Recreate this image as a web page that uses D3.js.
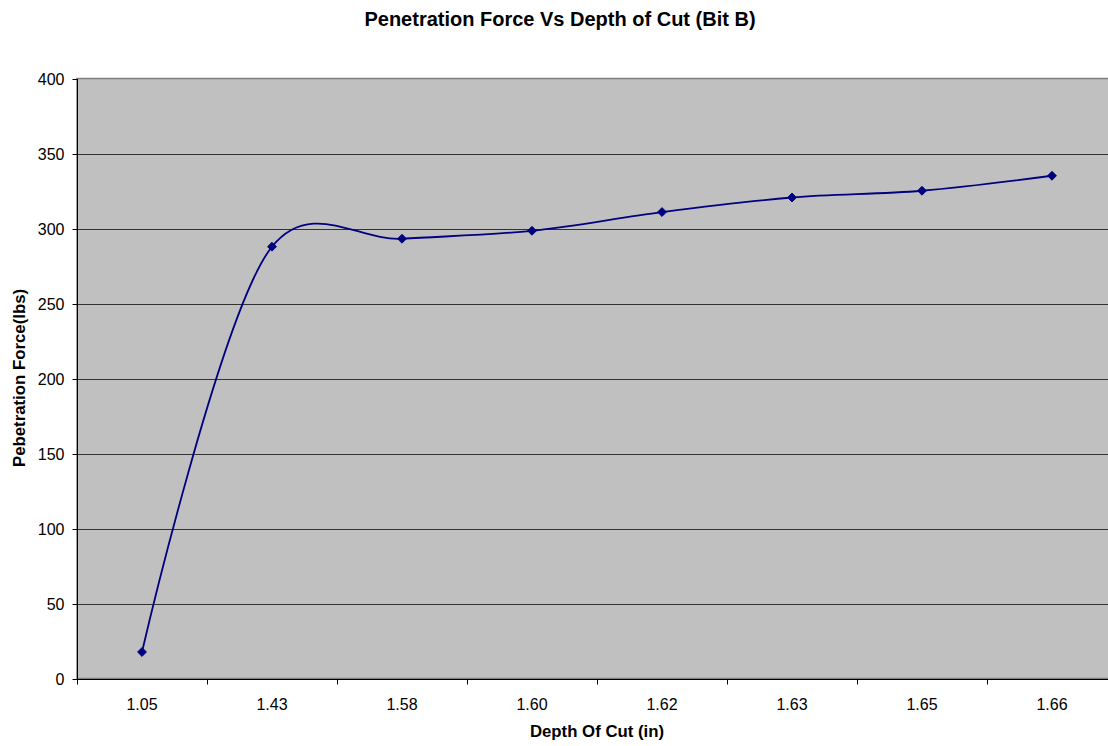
<!DOCTYPE html>
<html>
<head>
<meta charset="utf-8">
<script src="https://cdn.jsdelivr.net/npm/d3@7"></script>
<style>
  html, body { margin: 0; padding: 0; background: #fff; }
  svg { display: block; overflow: hidden; }
  text { font-family: "Liberation Sans", Arial, sans-serif; fill: #000; }
</style>
</head>
<body>
<svg id="chart" width="1108" height="746"></svg>
<script>
// Depth of cut categories (inches) and measured penetration force (lbs)
const depthLabels = ["1.05", "1.43", "1.58", "1.60", "1.62", "1.63", "1.65", "1.66"];
const forceValues = [18, 288.2, 293.5, 298.8, 311.3, 321, 325.5, 335.5];
const yTicks = [0, 50, 100, 150, 200, 250, 300, 350, 400];

const svg = d3.select("#chart");
const plot = { left: 77, top: 79, right: 1117, bottom: 679 };

const x = d3.scaleBand()
  .domain(depthLabels)
  .range([plot.left, plot.right])
  .padding(0);

const y = d3.scaleLinear()
  .domain([0, 400])
  .range([plot.bottom, plot.top]);

// Plot background
svg.append("rect")
  .attr("x", plot.left)
  .attr("y", plot.top - 0.5)
  .attr("width", plot.right - plot.left)
  .attr("height", plot.bottom - plot.top)
  .attr("fill", "#c0c0c0")
  .attr("stroke", "#808080")
  .attr("stroke-width", 1.5);

// Horizontal gridlines
svg.append("g")
  .selectAll("line")
  .data(yTicks.filter(d => d > 0 && d < 400))
  .join("line")
  .attr("x1", plot.left)
  .attr("x2", plot.right)
  .attr("y1", d => Math.round(y(d)) + 0.5)
  .attr("y2", d => Math.round(y(d)) + 0.5)
  .attr("stroke", "#333")
  .attr("stroke-width", 1);

// Y axis
const yAxis = d3.axisLeft(y)
  .tickValues(yTicks)
  .tickSize(5)
  .tickPadding(8)
  .tickFormat(d3.format("d"));
const gy = svg.append("g")
  .attr("transform", `translate(${plot.left + 0.5},0)`)
  .call(yAxis);
gy.selectAll("text")
  .style("font-size", "16px")
  .attr("font-family", "Liberation Sans, Arial, sans-serif")
  .attr("fill", "#000");
gy.selectAll("line, path").attr("stroke", "#000");
gy.select(".domain").attr("d", `M0,${plot.top}V${plot.bottom}`);

// X axis: ticks sit at category boundaries, labels centred in each band
const gx = svg.append("g")
  .attr("transform", `translate(0,${plot.bottom + 0.5})`);
gx.append("line")
  .attr("x1", plot.left).attr("x2", plot.right)
  .attr("stroke", "#000");
const bounds = depthLabels.map(d => x(d)).concat([plot.right]);
gx.selectAll("line.tick")
  .data(bounds)
  .join("line")
  .attr("class", "tick")
  .attr("x1", d => Math.round(d) + 0.5)
  .attr("x2", d => Math.round(d) + 0.5)
  .attr("y1", 0).attr("y2", 5)
  .attr("stroke", "#000");
gx.selectAll("text")
  .data(depthLabels)
  .join("text")
  .attr("x", d => x(d) + x.bandwidth() / 2)
  .attr("y", 30)
  .attr("text-anchor", "middle")
  .style("font-size", "16px")
  .text(d => d);

// Smoothed series line
const line = d3.line()
  .x((d, i) => x(depthLabels[i]) + x.bandwidth() / 2)
  .y(d => y(d))
  .curve(d3.curveCatmullRom.alpha(0.2));
svg.append("path")
  .datum(forceValues)
  .attr("d", line)
  .attr("fill", "none")
  .attr("stroke", "#000080")
  .attr("stroke-width", 1.8);

// Diamond markers
const diamond = d3.symbol().type(d3.symbolDiamond2).size(50);
svg.append("g")
  .selectAll("path")
  .data(forceValues)
  .join("path")
  .attr("transform", (d, i) => `translate(${x(depthLabels[i]) + x.bandwidth() / 2},${y(d)})`)
  .attr("d", diamond)
  .attr("fill", "#000080")
  .attr("stroke", "#000080")
  .attr("stroke-width", 1);

// Titles
svg.append("text")
  .attr("x", 560)
  .attr("y", 26)
  .attr("text-anchor", "middle")
  .style("font-size", "20px")
  .style("font-weight", "bold")
  .text("Penetration Force Vs Depth of Cut (Bit B)");

svg.append("text")
  .attr("x", 597)
  .attr("y", 737)
  .attr("text-anchor", "middle")
  .style("font-size", "16.8px")
  .style("font-weight", "bold")
  .text("Depth Of Cut (in)");

svg.append("text")
  .attr("transform", `translate(25,378) rotate(-90)`)
  .attr("text-anchor", "middle")
  .style("font-size", "16.8px")
  .style("font-weight", "bold")
  .text("Pebetration Force(lbs)");
</script>
</body>
</html>
